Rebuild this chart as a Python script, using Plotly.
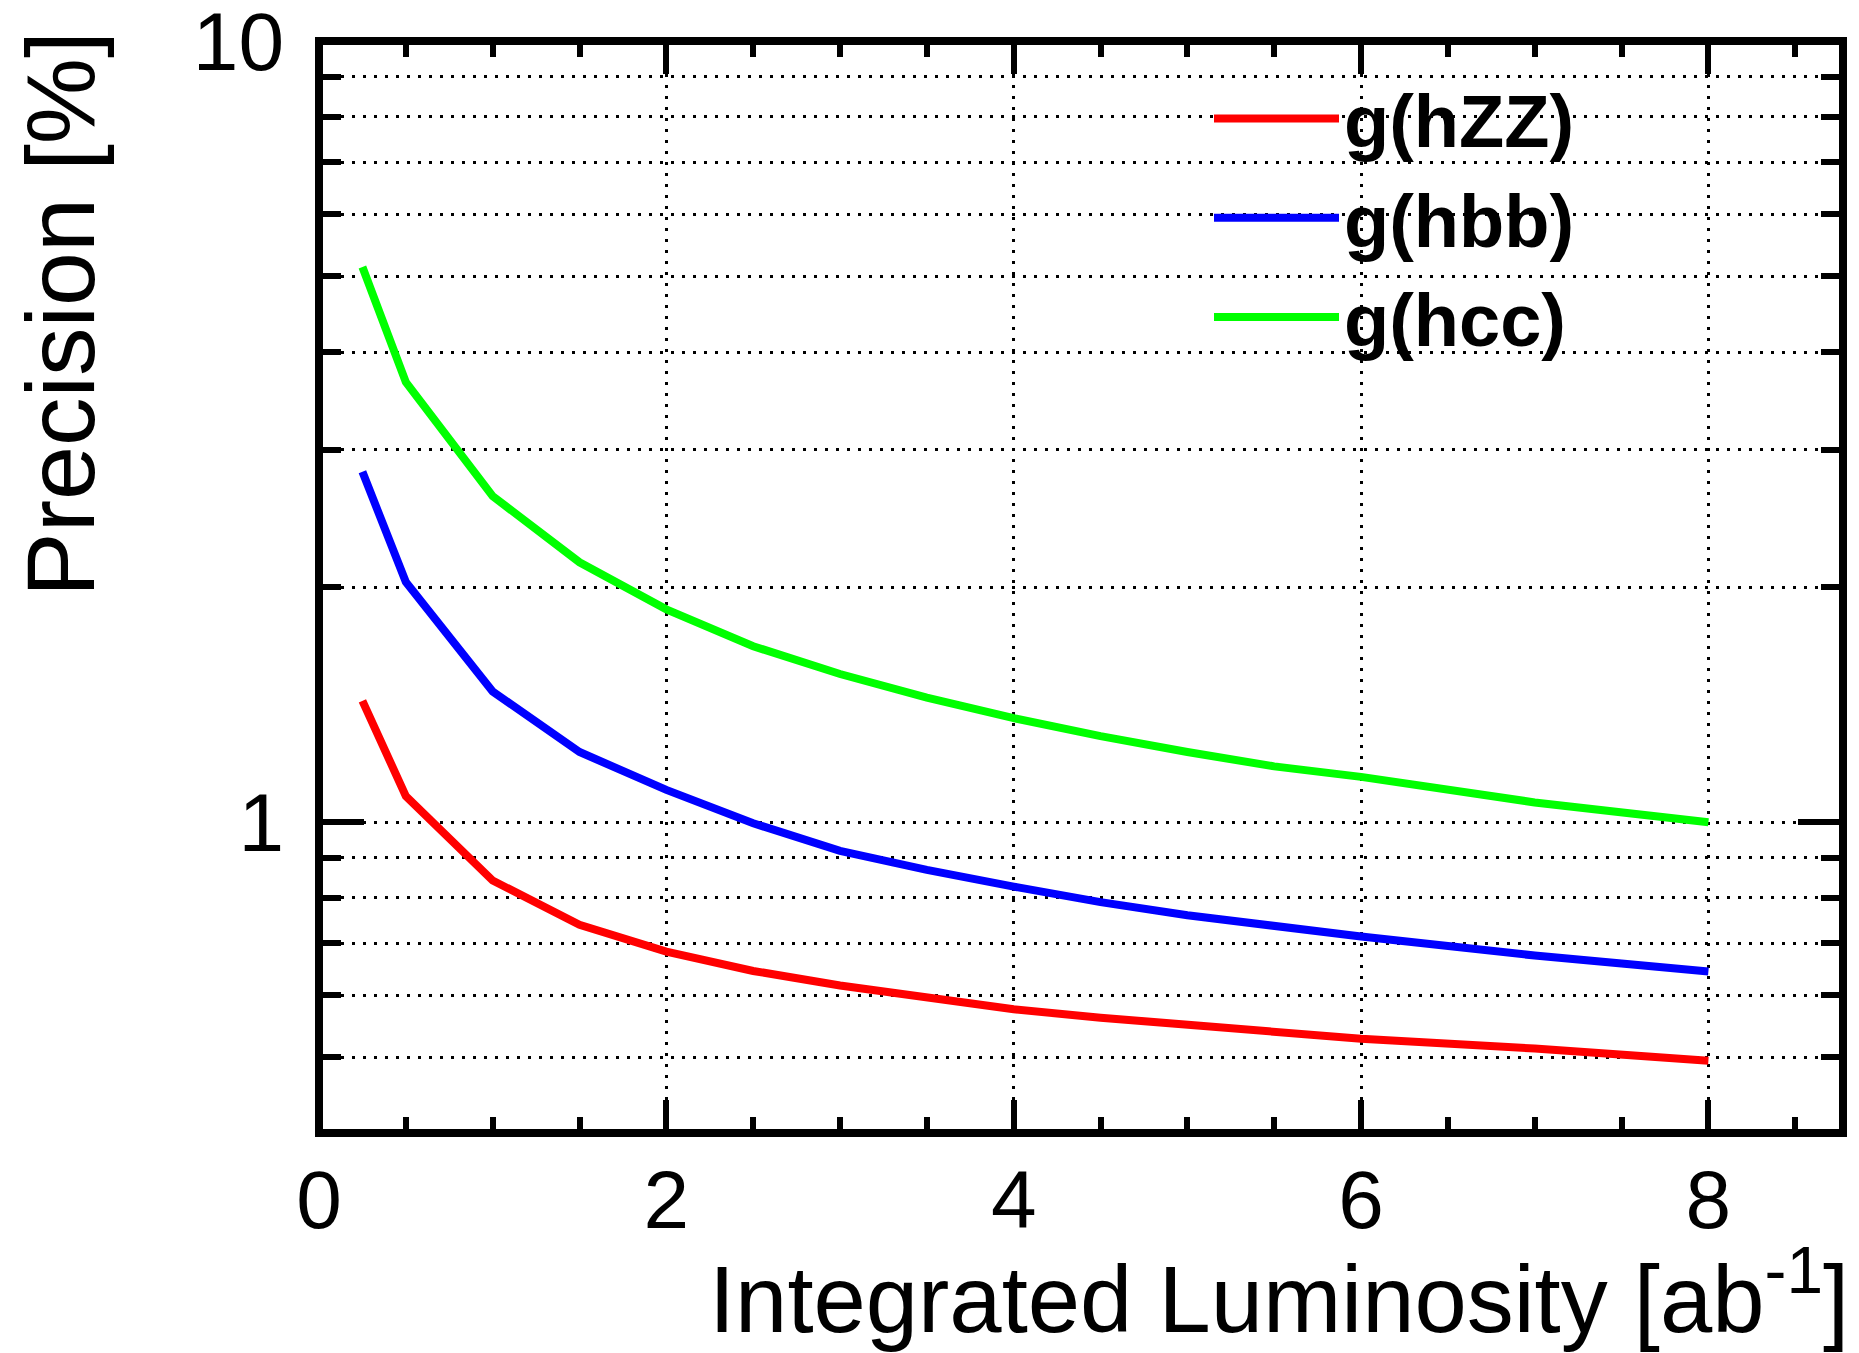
import plotly.graph_objects as go
import math

# ---- data ----
lumi = [0.25, 0.5, 1.0, 1.5, 2.0, 2.5, 3.0, 3.5, 4.0, 4.5, 5.0, 5.5, 6.0, 7.0, 8.0]
g_hZZ = [1.43, 1.08, 0.842, 0.739, 0.683, 0.645, 0.618, 0.597, 0.576, 0.562, 0.550, 0.537, 0.528, 0.513, 0.495]
g_hbb = [2.81, 2.03, 1.47, 1.23, 1.10, 0.997, 0.919, 0.869, 0.827, 0.790, 0.760, 0.735, 0.714, 0.675, 0.644]
g_hcc = [5.14, 3.66, 2.615, 2.152, 1.873, 1.680, 1.548, 1.444, 1.359, 1.289, 1.230, 1.179, 1.143, 1.060, 1.000]

series_names = ["g(hZZ)", "g(hbb)", "g(hcc)"]
series_colors = ["#ff0000", "#0000ff", "#00ff00"]

x_major = [0, 2, 4, 6, 8]
y_major = [1, 10]
y_major_text = ["1", "10"]
y_minor = [0.5, 0.6, 0.7, 0.8, 0.9, 2, 3, 4, 5, 6, 7, 8, 9]

x_title = "Integrated Luminosity [ab<sup>-1</sup>]"
y_title = "Precision [%]"

FONT = "Liberation Sans, Arial, Helvetica, sans-serif"

fig = go.Figure()
for name, vals, col in zip(series_names, [g_hZZ, g_hbb, g_hcc], series_colors):
    fig.add_trace(go.Scatter(x=lumi, y=vals, mode="lines", name=name,
                             line=dict(color=col, width=8)))

grid_dash = "3px,8px"

# the page body has an 8px margin, so the figure is made 8px smaller and
# its margins reduced accordingly to land the frame at the reference position
fig.update_layout(
    template="none",
    width=1851, height=1345,
    margin=dict(l=311, r=16, t=33, b=220, autoexpand=False),
    paper_bgcolor="white", plot_bgcolor="white",
    font=dict(family=FONT, color="black"),
    showlegend=True,
    legend=dict(
        x=(1209 - 319) / 1524, xanchor="left",
        y=0.979, yanchor="top",
        bgcolor="rgba(0,0,0,0)", borderwidth=0,
        font=dict(family=FONT, size=74, color="black", weight="bold"),
        itemwidth=125, traceorder="normal",
    ),
    xaxis=dict(
        range=[0, 8.775], automargin=False,
        tickmode="array", tickvals=x_major,
        ticks="inside", ticklen=33, tickwidth=6, tickcolor="black",
        mirror="allticks", showline=False, zeroline=False,
        showgrid=True, gridcolor="black", gridwidth=2.5, griddash=grid_dash,
        tickfont=dict(family=FONT, size=82, color="black"),
        ticklabelstandoff=12, ticklabeloverflow="allow",
        minor=dict(dtick=0.5, tick0=0, ticks="inside", ticklen=16, tickwidth=6,
                   tickcolor="black", showgrid=False),
    ),
    yaxis=dict(
        type="log", automargin=False,
        range=[math.log10(0.4), 1.0003],
        tickmode="array", tickvals=y_major, ticktext=y_major_text,
        ticks="inside", ticklen=45, tickwidth=6, tickcolor="black",
        mirror="allticks", showline=False, zeroline=False,
        showgrid=True, gridcolor="black", gridwidth=2.5, griddash=grid_dash,
        tickfont=dict(family=FONT, size=82, color="black"),
        ticklabelstandoff=34, ticklabeloverflow="allow",
        minor=dict(tickmode="array", tickvals=y_minor, ticks="inside", ticklen=22,
                   tickwidth=6, tickcolor="black",
                   showgrid=True, gridcolor="black", gridwidth=2.5, griddash=grid_dash),
    ),
    shapes=[dict(type="rect", xref="paper", yref="paper", x0=0, x1=1, y0=0, y1=1,
                 line=dict(color="black", width=8), fillcolor="rgba(0,0,0,0)", layer="above")],
    annotations=[
        dict(text=x_title, xref="paper", yref="paper", x=1, y=0,
             xanchor="right", yanchor="top", xshift=8, yshift=-98, showarrow=False,
             font=dict(family=FONT, size=94, color="black")),
        dict(text=y_title, xref="paper", yref="paper", x=0, y=1,
             xanchor="center", yanchor="top", xshift=-259, yshift=12,
             textangle=-90, showarrow=False,
             font=dict(family=FONT, size=97, color="black")),
    ],
)

fig.write_html("out.html")
